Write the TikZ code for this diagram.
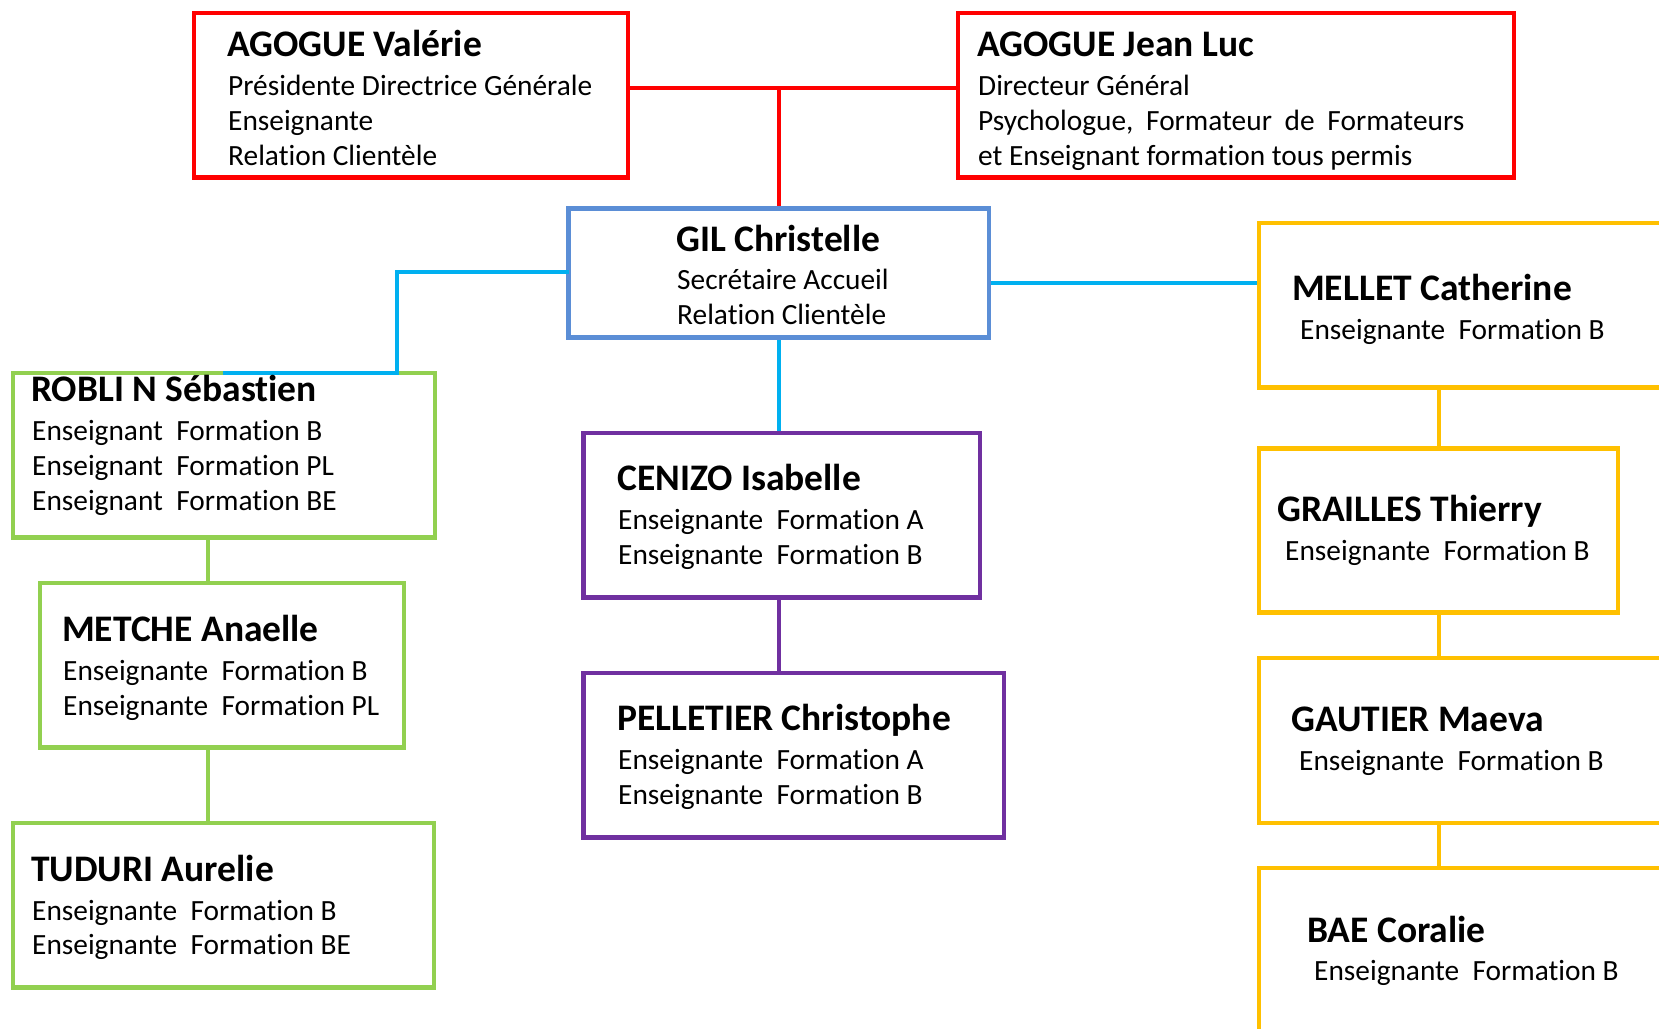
\documentclass[tikz,border=0pt]{standalone}
\usepackage{fontspec}
\setmainfont{Carlito}[Ligatures=NoCommon]
\definecolor{cRed}{HTML}{FF0000}
\definecolor{cGil}{HTML}{5B8ED6}
\definecolor{cCyan}{HTML}{00B0F0}
\definecolor{cGreen}{HTML}{92D050}
\definecolor{cPurple}{HTML}{7030A0}
\definecolor{cYellow}{HTML}{FFC000}
\newcommand\bodyf{\fontsize{29.35}{35}\selectfont}
\newcommand\namef{\fontsize{37.5}{40}\selectfont\bfseries}
\pgfdeclarelayer{background}
\pgfsetlayers{background,main}
\begin{document}
\begin{tikzpicture}[x=1pt,y=-1pt,
  box/.style={draw=#1,line width=4.7pt,rectangle,inner sep=0pt,outer sep=0pt},
  conn/.style={draw=#1,line width=4pt},
  nm/.style={anchor=base west,inner sep=0pt,font=\namef},
  tx/.style={anchor=base west,inner sep=0pt,font=\bodyf}]
\useasboundingbox (0,0) rectangle (1659,1028);
\clip (0,0) rectangle (1659,1028);
% boxes
\node[box=cRed,minimum width=434pt,minimum height=164.5pt] (val) at (411,95.25) {};
\node[box=cRed,minimum width=556pt,minimum height=164.5pt] (jl) at (1236,95.25) {};
\node[box=cGil,minimum width=420.5pt,minimum height=129pt] (gil) at (778.75,273) {};
\node[box=cGreen,minimum width=422pt,minimum height=164.5pt] (rob) at (224,455.25) {};
\node[box=cGreen,minimum width=364pt,minimum height=164.5pt] (met) at (222,665.25) {};
\node[box=cGreen,minimum width=421pt,minimum height=164.5pt] (tud) at (223.5,905.25) {};
\node[box=cPurple,minimum width=396.5pt,minimum height=164.5pt] (cen) at (781.75,515.25) {};
\node[box=cPurple,minimum width=420.5pt,minimum height=164.5pt] (pel) at (793.75,755.25) {};
\node[box=cYellow,minimum width=441pt,minimum height=164.5pt] (mel) at (1479.5,305.25) {};
\node[box=cYellow,minimum width=359pt,minimum height=164pt] (gra) at (1438.5,530.5) {};
\node[box=cYellow,minimum width=441pt,minimum height=165pt] (gau) at (1479.5,740.5) {};
\node[box=cYellow,minimum width=441pt,minimum height=232pt] (bae) at (1479.5,984) {};
% junction coordinates
\coordinate (redj) at (779,88);
\coordinate (bl1) at (397,272);
\coordinate (bl2) at (223,373);
\coordinate (brj) at (1100,283);
\coordinate (gx) at (208,0);
% connectors
\begin{pgfonlayer}{background}
\draw[conn=cRed] (val.east |- redj) -- (jl.west |- redj);
\draw[conn=cRed] (redj) -- (redj |- gil.north);
\draw[conn=cCyan] (gil.east |- brj) -- (mel.west |- brj);
\draw[conn=cCyan] (redj |- gil.south) -- (redj |- cen.north);
\draw[conn=cPurple] (redj |- cen.south) -- (redj |- pel.north);
\draw[conn=cGreen] (gx |- rob.south) -- (gx |- met.north);
\draw[conn=cGreen] (gx |- met.south) -- (gx |- tud.north);
\draw[conn=cYellow] (gra.north) -- (gra.north |- mel.south);
\draw[conn=cYellow] (gra.south) -- (gra.south |- gau.north);
\draw[conn=cYellow] (gra.south |- gau.south) -- (gra.south |- bae.north);
\end{pgfonlayer}
\draw[conn=cCyan,line join=miter] (gil.west |- bl1) -- (bl1) |- (bl2);
% texts
\node[nm] (valN) at (227,56.7) {AGOGUE Valérie};
\node[tx] (val1) at (228,95) {Présidente Directrice Générale};
\node[tx] (val2) at (228,130) {Enseignante};
\node[tx] (val3) at (228,165) {Relation Clientèle};
\node[nm] (jlN) at (977,56.7) {AGOGUE Jean Luc};
\node[tx] (jl1) at (978,95) {Directeur Général};
\node[tx] (jl2) at (978,130) {\hbox to 486pt{Psychologue,\hfil Formateur\hfil de\hfil Formateurs}};
\node[tx] (jl3) at (978,165) {et Enseignant formation tous permis};
\node[nm] (gilN) at (676,251.7) {GIL Christelle};
\node[tx] (gil1) at (677,289.3) {Secrétaire Accueil};
\node[tx] (gil2) at (677,324.3) {Relation Clientèle};
\node[nm] (robN) at (31,401.7) {ROBLI N Sébastien};
\node[tx] (rob1) at (32,440) {Enseignant\ \ Formation B};
\node[tx] (rob2) at (32,475) {Enseignant\ \ Formation PL};
\node[tx] (rob3) at (32,510) {Enseignant\ \ Formation BE};
\node[nm] (metN) at (62,641.7) {METCHE Anaelle};
\node[tx] (met1) at (63,680) {Enseignante\ \ Formation B};
\node[tx] (met2) at (63,715) {Enseignante\ \ Formation PL};
\node[nm] (tudN) at (31,881.7) {TUDURI Aurelie};
\node[tx] (tud1) at (32,920) {Enseignante\ \ Formation B};
\node[tx] (tud2) at (32,954.3) {Enseignante\ \ Formation BE};
\node[nm] (cenN) at (617,490) {CENIZO Isabelle};
\node[tx] (cen1) at (618,529.3) {Enseignante\ \ Formation A};
\node[tx] (cen2) at (618,564.3) {Enseignante\ \ Formation B};
\node[nm] (pelN) at (617,730) {PELLETIER Christophe};
\node[tx] (pel1) at (618,769.3) {Enseignante\ \ Formation A};
\node[tx] (pel2) at (618,804.3) {Enseignante\ \ Formation B};
\node[nm] (melN) at (1292,300.7) {MELLET Catherine};
\node[tx] (mel1) at (1300,339.3) {Enseignante\ \ Formation B};
\node[nm] (graN) at (1277,521.7) {GRAILLES Thierry};
\node[tx] (gra1) at (1285,560) {Enseignante\ \ Formation B};
\node[nm] (gauN) at (1291,731.7) {GAUTIER Maeva};
\node[tx] (gau1) at (1299,770) {Enseignante\ \ Formation B};
\node[nm] (baeN) at (1307,942) {BAE Coralie};
\node[tx] (bae1) at (1314,980) {Enseignante\ \ Formation B};
\end{tikzpicture}
\end{document}
